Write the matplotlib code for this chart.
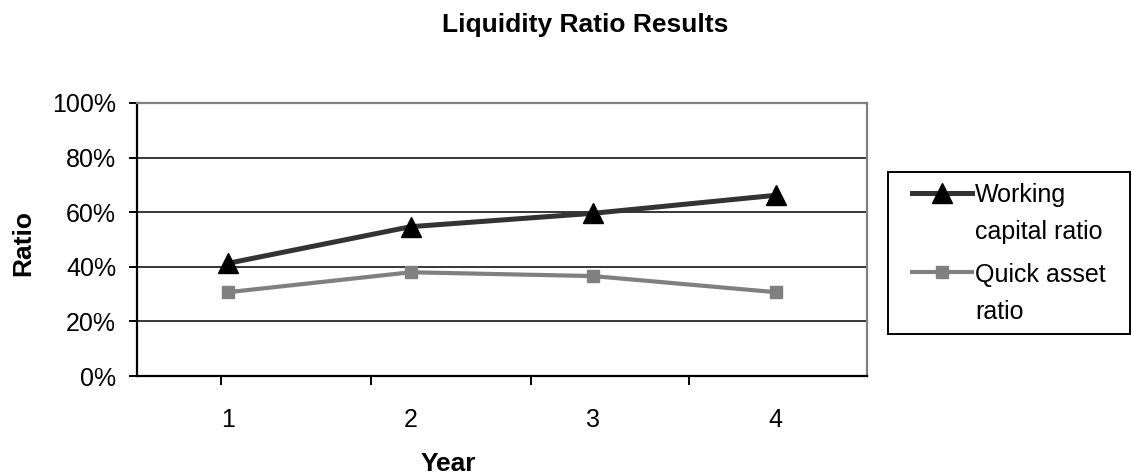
import matplotlib
matplotlib.use("Agg")
import matplotlib.pyplot as plt
from matplotlib.patches import Rectangle
from matplotlib.legend_handler import HandlerLine2D

years = [1, 2, 3, 4]
year_labels = ["1", "2", "3", "4"]
working_capital = [0.413, 0.547, 0.596, 0.662]
quick_asset = [0.307, 0.380, 0.366, 0.307]
y_ticks = [0.0, 0.2, 0.4, 0.6, 0.8, 1.0]
y_tick_labels = ["0%", "20%", "40%", "60%", "80%", "100%"]
# tick marks of the category axis (drawn offset in the original)
x_tick_marks = [0.960, 1.782, 2.659, 3.525]

plt.rcParams['font.family'] = ['Liberation Sans', 'DejaVu Sans']


class FirstLineHandler(HandlerLine2D):
    """Place the legend handle beside the first line of a two-line label."""
    def __init__(self, shift, **kw):
        super().__init__(**kw)
        self._shift = shift

    def create_artists(self, legend, orig_handle, xdescent, ydescent, width,
                       height, fontsize, trans):
        return super().create_artists(legend, orig_handle, xdescent,
                                      ydescent - self._shift, width, height,
                                      fontsize, trans)


W, H = 1132, 475
fig = plt.figure(figsize=(W / 100, H / 100), dpi=100)
ax = fig.add_axes([137 / W, 1 - 376 / H, (867 - 137) / W, (376 - 103) / H])

ax.set_xlim(0.5, 4.5)
ax.set_ylim(0, 1)

for y in y_ticks[1:-1]:
    ax.axhline(y, color='black', lw=1.1, zorder=1)

l1, = ax.plot(years, working_capital, color='#333333', lw=3.6, marker='^',
              markersize=14, markerfacecolor='black', markeredgecolor='black',
              zorder=3, label="Working\ncapital ratio")
l2, = ax.plot(years, quick_asset, color='#808080', lw=3.0, marker='s',
              markersize=8.5, markerfacecolor='#808080', markeredgecolor='#808080',
              zorder=3, label="Quick asset\nratio")

ax.set_yticks(y_ticks)
ax.set_yticklabels(y_tick_labels)
ax.tick_params(axis='y', direction='out', length=6, width=1.4, pad=9,
               labelsize=18, colors='black')

ax.set_xticks(x_tick_marks)
ax.set_xticklabels([""] * len(x_tick_marks))
ax.tick_params(axis='x', which='major', direction='out', length=6.5, width=1.4)
ax.set_xticks(years, minor=True)
ax.set_xticklabels(year_labels, minor=True)
ax.tick_params(axis='x', which='minor', length=0, pad=23, labelsize=18)

for s in ['left', 'bottom']:
    ax.spines[s].set_color('black')
    ax.spines[s].set_linewidth(1.6)
for s in ['top', 'right']:
    ax.spines[s].set_color('#808080')
    ax.spines[s].set_linewidth(1.6)

fig.text(585 / W, 1 - 32 / H, "Liquidity Ratio Results", ha='center',
         va='baseline', fontsize=19, fontweight='bold')
fig.text(23 / W, 1 - 243 / H, "Ratio", ha='center', va='center', rotation=90,
         fontsize=19, fontweight='bold')
fig.text(448 / W, 1 - 471 / H, "Year", ha='center', va='baseline',
         fontsize=19, fontweight='bold')

handler = FirstLineHandler(shift=31)
leg = ax.legend(handles=[l1, l2], loc='upper left',
                bbox_to_anchor=(912 / W, 1 - 183 / H),
                bbox_transform=fig.transFigure, frameon=False,
                handlelength=2.4, handletextpad=0.12,
                labelspacing=0.75, borderpad=0, borderaxespad=0,
                handler_map={l1: handler, l2: handler},
                prop={'size': 18})
for t in leg.get_texts():
    t.set_linespacing(1.68)

fig.patches.append(Rectangle((888 / W, 1 - 334 / H), (1130 - 888) / W,
                             (334 - 172) / H, transform=fig.transFigure,
                             fill=False, edgecolor='black', lw=1.4))

fig.savefig("out.png", dpi=100)
